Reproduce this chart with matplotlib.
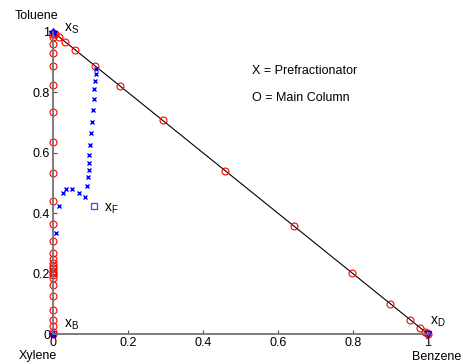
import matplotlib
matplotlib.use("Agg")
import matplotlib.pyplot as plt

plt.rcParams['font.family'] = ['Liberation Sans', 'DejaVu Sans']

# main column profile (x = benzene, y = toluene)
main_x = [0, 0, 0, 0, 0, 0, 0, 0, 0, 0, 0, 0, 0, 0, 0, 0, 0, 0, 0,
          0, 0, 0, 0, 0, 0, 0, 0, 0, 0,
          0.005, 0.016, 0.032, 0.06, 0.112, 0.18, 0.293, 0.459, 0.643,
          0.798, 0.899, 0.952, 0.979, 0.992, 0.997, 1.0]
main_y = [0, 0.008, 0.025, 0.048, 0.08, 0.127, 0.162, 0.186, 0.194, 0.202,
          0.21, 0.218, 0.226, 0.236, 0.25, 0.268, 0.307, 0.363, 0.44,
          0.533, 0.637, 0.736, 0.824, 0.888, 0.931, 0.961, 0.982, 0.992, 0.997,
          0.995, 0.984, 0.968, 0.94, 0.888, 0.82, 0.707, 0.541, 0.357,
          0.202, 0.101, 0.048, 0.021, 0.008, 0.003, 0]

# prefractionator profile
pre_x = [0.007, 0.016, 0.026, 0.036, 0.051, 0.069, 0.085, 0.091, 0.093,
         0.095, 0.096, 0.097, 0.100, 0.102, 0.105, 0.107, 0.109, 0.110,
         0.113, 0.114, 0.114]
pre_y = [0.336, 0.424, 0.466, 0.481, 0.479, 0.468, 0.455, 0.491, 0.519,
         0.543, 0.567, 0.593, 0.627, 0.664, 0.703, 0.742, 0.778, 0.810,
         0.839, 0.860, 0.877]

feed = (0.109, 0.425)
side = (0.0, 1.0)
bottoms = (0.0, 0.0)
dist = (1.0, 0.0)

fig = plt.figure(figsize=(4.64, 3.64), dpi=100)
ax = fig.add_axes([0.1142, 0.0824, 0.808, 0.8297])

ax.plot([0, 1], [1, 0], color='black', lw=0.8)
ax.plot(main_x, main_y, 'o', mfc='none', mec='red', ms=5, mew=0.8, clip_on=False)
ax.plot(pre_x, pre_y, 'x', color='blue', ms=3.5, mew=1.0, clip_on=False)
ax.plot(*feed, 's', mfc='none', mec='#4444ff', ms=5, mew=0.9)
ax.plot(*side, '*', color='blue', ms=6, clip_on=False)
ax.plot(*bottoms, '*', color='blue', ms=6, clip_on=False)
ax.plot(*dist, 'v', mfc='none', mec='blue', ms=5, mew=1, clip_on=False)

ax.text(0.03, 1.0, '$\\mathregular{x_S}$', fontsize=10)
ax.text(0.135, 0.405, '$\\mathregular{x_F}$', fontsize=10)
ax.text(0.03, 0.02, '$\\mathregular{x_B}$', fontsize=10)
ax.text(1.005, 0.03, '$\\mathregular{x_D}$', fontsize=10)
ax.text(0.53, 0.86, 'X = Prefractionator', fontsize=9)
ax.text(0.53, 0.77, 'O = Main Column', fontsize=9)
ax.text(-0.045, 1.053, 'Toluene', fontsize=9, ha='center', va='center')
ax.text(-0.04, -0.074, 'Xylene', fontsize=9, ha='center', va='center')
ax.text(1.022, -0.076, 'Benzene', fontsize=9, ha='center', va='center')

ticks = [0, 0.2, 0.4, 0.6, 0.8, 1]
tick_labels = ['0', '0.2', '0.4', '0.6', '0.8', '1']
ax.set_xlim(0, 1)
ax.set_ylim(0, 1)
ax.set_xticks(ticks)
ax.set_xticklabels(tick_labels)
ax.set_yticks(ticks)
ax.set_yticklabels(tick_labels)
ax.tick_params(direction='in', length=3, labelsize=9, color='0.3', pad=2)
for s in ['top', 'right']:
    ax.spines[s].set_visible(False)
for s in ['left', 'bottom']:
    ax.spines[s].set_color('0.45')
    ax.spines[s].set_linewidth(1.3)

fig.savefig('out.png', dpi=100)
